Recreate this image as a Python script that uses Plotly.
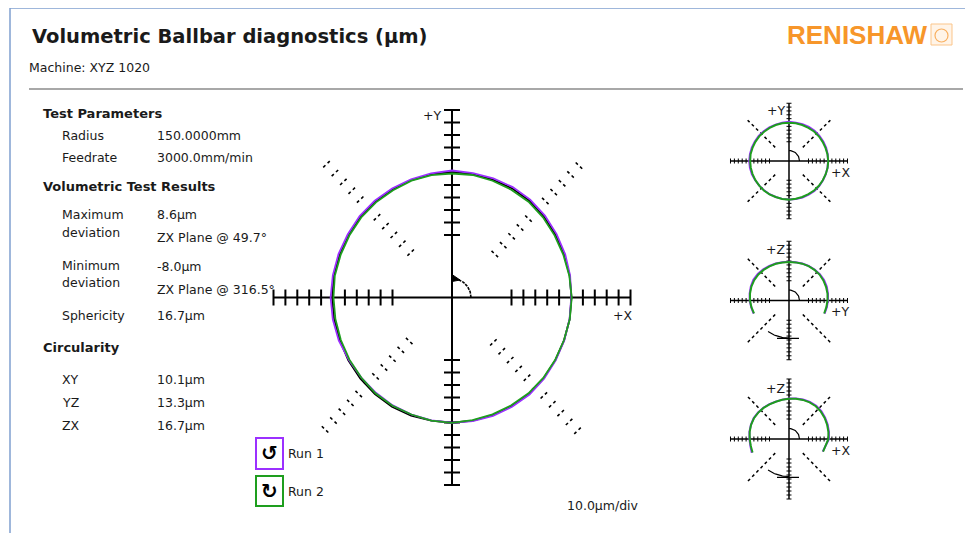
import numpy as np
import plotly.graph_objects as go

W, H = 973, 533
OFF = 8  # page body margin in the browser

# ---------------- data (deviation in µm from nominal, by angle in degrees) ----------------
xy_angle = [0, 10, 20, 30, 40, 50, 60, 70, 80, 90, 100, 110, 120, 130, 140, 150, 160, 170,
            180, 190, 200, 210, 220, 230, 240, 250, 260, 270, 280, 290, 300, 310, 320, 330, 340, 350]
xy_run1 = [0.2, 0.8, 1.2, 1.5, 1.9, 2.2, 2.0, 1.4, 1.1, 1.6, 0.9, 0.6, 0.7, 1.0, 1.3, 1.1, 1.5, 1.7,
           2.0, 1.7, 1.2, 0.0, -0.4, -0.5, -0.3, -0.4, -0.1, 0.2, 0.5, 0.7, 1.0, 1.3, 1.0, 0.6, 0.4, 0.3]
xy_run2 = [0.6, 0.1, -0.4, -0.5, -0.2, 0.0, -0.4, -0.6, -0.5, -0.8, -0.6, -0.5, -0.9, -0.6, -0.4, -0.5, -0.4, 0.0,
           -0.4, -0.5, -0.6, -0.5, -0.4, 0.1, 0.0, -0.4, 0.1, 0.3, -0.4, -0.5, -0.4, 0.0, 0.1, 0.0, 0.1, 0.5]
xy_mean = [0.4, 0.4, 0.4, 0.5, 0.8, 1.1, 0.8, 0.4, 0.3, 0.4, 0.1, 0.0, -0.1, 0.2, 0.4, 0.3, 0.5, 0.8,
           0.8, 0.6, 0.3, 0.6, 0.7, 0.8, 0.9, 0.5, 0.0, 0.2, 0.0, 0.1, 0.3, 0.6, 0.5, 0.3, 0.2, 0.4]

arc_angle = [-20, -10, 0, 10, 20, 30, 40, 50, 60, 70, 80, 90, 100, 110, 120, 130, 140, 150,
             160, 170, 180, 190, 200]
yz_run1 = [-3.0, -1.5, 0.0, 1.5, 3.0, 3.8, 3.2, 2.0, 0.8, -0.5, -1.5, -2.0, -1.5, -0.5, 1.0, 2.8, 4.6, 5.5,
           4.2, 2.5, 0.8, -1.5, -3.5]
yz_run2 = [-4.0, -2.8, -1.2, 0.2, 1.0, 1.8, 2.2, 1.5, 0.6, -0.8, -2.0, -2.5, -2.2, -1.2, 0.0, 1.2, 2.4, 3.0,
           2.6, 1.5, 0.0, -2.2, -4.5]
zx_run1 = [-8.0, -5.0, 2.5, 4.0, 5.5, 7.0, 8.2, 8.6, 7.0, 5.0, 2.8, 1.0, 0.0, -0.5, 0.5, 2.0, 3.5, 4.5,
           4.0, 3.0, 1.5, 0.5, 1.5]
zx_run2 = [-7.0, -4.5, 1.0, 2.5, 4.0, 5.5, 6.5, 6.8, 5.8, 4.0, 2.2, 0.6, -0.4, -0.8, 0.0, 1.4, 2.8, 3.8,
           3.5, 2.4, 0.8, -0.6, -0.5]

nominal = 100.0                      # plotted radius of the nominal circle (1 unit = 1 µm)
tick_r = [50, 60, 70, 80, 90, 100, 110, 120, 130, 140, 150]   # 10 µm / div graduations

param_labels = ["Radius", "Feedrate"]
param_values = ["150.0000mm", "3000.0mm/min"]
circ_labels = ["XY", "YZ", "ZX"]
circ_values = ["10.1µm", "13.3µm", "16.7µm"]

PURPLE = "#9b30ff"
GREEN = "#1e9e1e"
BLACK = "#000000"
TXT = "#1a1a1a"
FONT = "DejaVu Sans"


def px(x):
    return (x - OFF) / W


def py(y):
    return 1 - (y - OFF) / H


fig = go.Figure()

# ---------------- axes systems ----------------
RNG = 160
plots = {
    # name: (axis index, centre x px, centre y px, px/unit x, px/unit y)
    "main": (1, 452.0, 297.5, 1.19, 1.25),
    "xy": (2, 789.0, 161.0, 0.39, 0.385),
    "yz": (3, 789.0, 300.5, 0.39, 0.395),
    "zx": (4, 789.0, 439.0, 0.39, 0.40),
}
layout_axes = {}
for name, (i, cx, cy, sx, sy) in plots.items():
    sfx = "" if i == 1 else str(i)
    layout_axes["xaxis" + sfx] = dict(domain=[px(cx - RNG * sx), px(cx + RNG * sx)], range=[-RNG, RNG],
                                      visible=False, fixedrange=True, anchor="y" + sfx)
    layout_axes["yaxis" + sfx] = dict(domain=[py(cy + RNG * sy), py(cy - RNG * sy)], range=[-RNG, RNG],
                                      visible=False, fixedrange=True, anchor="x" + sfx)


def refs(name):
    i = plots[name][0]
    return ("x", "y") if i == 1 else ("x" + str(i), "y" + str(i))


def line(name, xs, ys, color=BLACK, width=1.5, dash="solid", fill=None):
    xr, yr = refs(name)
    fig.add_trace(go.Scatter(x=xs, y=ys, mode="lines", xaxis=xr, yaxis=yr, showlegend=False,
                             hoverinfo="skip", fill=fill, fillcolor=color if fill else None,
                             line=dict(color=color, width=width, dash=dash)))


def ticks(name, angle_deg, radii, half_px):
    _, _, _, sx, sy = plots[name]
    th = np.radians(angle_deg)
    dx, dy = np.cos(th) * sx, np.sin(th) * sy
    n = np.hypot(dx, dy)
    ux, uy = dx / n, dy / n
    ox, oy = -uy * half_px / sx, ux * half_px / sy
    xs, ys = [], []
    for r in radii:
        bx, by = r * np.cos(th), r * np.sin(th)
        xs += [bx - ox, bx + ox, None]
        ys += [by - oy, by + oy, None]
    return xs, ys


def arc(name, r_px, a0, a1, n=40):
    _, _, _, sx, sy = plots[name]
    t = np.radians(np.linspace(a0, a1, n))
    return list(r_px / sx * np.cos(t)), list(r_px / sy * np.sin(t))


def polar_xy(angles, devs, close=False):
    a = np.radians(np.array(angles, dtype=float))
    r = nominal + np.array(devs, dtype=float)
    x, y = list(r * np.cos(a)), list(r * np.sin(a))
    if close:
        x.append(x[0]); y.append(y[0])
    return x, y


ext = max(tick_r)

# ---------------- main plot ----------------
for ang in (45, 135, 225, 315):
    xs, ys = ticks("main", ang, tick_r, 5.5)
    line("main", xs, ys, width=1.6, dash="dot")
line("main", [-ext, ext], [0, 0], width=2)
line("main", [0, 0], [-ext, ext], width=2)
for ang in (0, 90, 180, 270):
    xs, ys = ticks("main", ang, tick_r, 8)
    line("main", xs, ys, width=2)
ax_, ay_ = arc("main", 19, 0, 88)
line("main", ax_, ay_, width=1.6, dash="3px,1px")
sx_m, sy_m = plots["main"][3], plots["main"][4]
line("main", [0, 0, 8 / sx_m, 0], [23 / sy_m, 16 / sy_m, 17.5 / sy_m, 23 / sy_m], width=1, fill="toself")

x1, y1 = polar_xy(xy_angle, xy_run1, True)
x2, y2 = polar_xy(xy_angle, xy_run2, True)
xm, ym = polar_xy(xy_angle, xy_mean, True)
line("main", xm, ym, BLACK, 1.8)
line("main", x1, y1, PURPLE, 1.8)
line("main", x2, y2, GREEN, 1.8)

# ---------------- small plots ----------------
small = [
    ("xy", xy_angle, xy_run1, xy_run2, True, "+Y", "+X"),
    ("yz", arc_angle, yz_run1, yz_run2, False, "+Z", "+Y"),
    ("zx", arc_angle, zx_run1, zx_run2, False, "+Z", "+X"),
]
annotations = []
for name, ang_list, r1, r2, closed, vlab, hlab in small:
    _, _, cy, sx, sy = plots[name]
    for ang in (45, 135, 225, 315):
        a = np.radians(ang)
        line(name, [tick_r[0] * np.cos(a), ext * np.cos(a)], [tick_r[0] * np.sin(a), ext * np.sin(a)],
             width=1.5, dash="dot")
    line(name, [-ext, ext], [0, 0], width=1.5)
    line(name, [0, 0], [-ext, ext], width=1.5)
    for ang in (0, 90, 180, 270):
        xs, ys = ticks(name, ang, tick_r, 2.5)
        line(name, xs, ys, width=1)
    ax_, ay_ = arc(name, 10.5, 0, 90, 20)
    line(name, ax_, ay_, width=1.2)
    if not closed:
        bx, by = arc(name, 37.5, 236, 270, 20)
        line(name, bx, by, width=1.2)
        line(name, [-12 / sx, 10 / sx], [-nominal * 0.96, -nominal * 0.96], width=1.2)
    xa, ya = polar_xy(ang_list, r1, closed)
    xb, yb = polar_xy(ang_list, r2, closed)
    line(name, xa, ya, PURPLE, 2)
    line(name, xb, yb, GREEN, 2)
    annotations.append(dict(text=vlab, x=px(787), y=py(cy - 51), xref="paper", yref="paper",
                            xanchor="right", yanchor="middle", showarrow=False,
                            font=dict(family=FONT, size=12.5, color=TXT)))
    annotations.append(dict(text=hlab, x=px(829), y=py(cy + 11), xref="paper", yref="paper",
                            xanchor="left", yanchor="middle", showarrow=False,
                            font=dict(family=FONT, size=12.5, color=TXT)))


# ---------------- text ----------------
def txt(s, x, y, size=12.5, bold=False, color=TXT, anchor="left", family=FONT):
    annotations.append(dict(text=s, x=px(x), y=py(y), xref="paper", yref="paper", xanchor=anchor,
                            yanchor="middle", showarrow=False,
                            font=dict(family=family, size=size, color=color,
                                      weight="bold" if bold else "normal")))


txt("Volumetric Ballbar diagnostics (µm)", 30, 37, 19.5, True)
txt("Machine: XYZ 1020", 27, 67, 12.5)
txt("RENISHAW", 785, 35, 26, True, "#f7962a", family="Liberation Sans")

txt("Test Parameters", 41, 113, 13, True)
for k, (lab, val) in enumerate(zip(param_labels, param_values)):
    txt(lab, 60, 135 + 22 * k)
    txt(val, 155, 135 + 22 * k)
txt("Volumetric Test Results", 41, 187, 13, True)
txt("Maximum", 60, 214)
txt("deviation", 60, 232)
txt("8.6µm", 155, 214)
txt("ZX Plane @ 49.7°", 155, 237)
txt("Minimum", 60, 265)
txt("deviation", 60, 282)
txt("-8.0µm", 155, 267)
txt("ZX Plane @ 316.5°", 155, 289)
txt("Sphericity", 60, 315)
txt("16.7µm", 155, 315)
txt("Circularity", 41, 347, 13, True)
for k, (lab, val) in enumerate(zip(circ_labels, circ_values)):
    txt(lab, 60, 379 + 23 * k)
    txt(val, 155, 379 + 23 * k)

txt("+Y", 443, 115, 12.5, anchor="right")
txt("+X", 611, 315, 12.5)
txt("10.0µm/div", 565, 505, 12.5)

# legend
txt("↺", 269.5, 453, 20, True, BLACK, anchor="center")
txt("↻", 269.5, 491, 20, True, BLACK, anchor="center")
txt("Run 1", 286, 453)
txt("Run 2", 286, 491)

shapes = [
    dict(type="line", xref="paper", yref="paper", x0=px(10), x1=px(990), y0=py(8), y1=py(8),
         line=dict(color="#7f9fcf", width=1.5)),
    dict(type="line", xref="paper", yref="paper", x0=px(10), x1=px(10), y0=py(8), y1=py(560),
         line=dict(color="#7f9fcf", width=1.5)),
    dict(type="line", xref="paper", yref="paper", x0=px(29), x1=px(963), y0=py(89), y1=py(89),
         line=dict(color="#a8a8a8", width=2)),
    dict(type="rect", xref="paper", yref="paper", x0=px(256), x1=px(283), y0=py(469), y1=py(438),
         line=dict(color=PURPLE, width=2)),
    dict(type="rect", xref="paper", yref="paper", x0=px(256), x1=px(283), y0=py(506), y1=py(476),
         line=dict(color=GREEN, width=2)),
    dict(type="rect", xref="paper", yref="paper", x0=px(931), x1=px(952), y0=py(45), y1=py(24),
         line=dict(color="#fbc58a", width=1), fillcolor="#fff4e8"),
    dict(type="circle", xref="paper", yref="paper", x0=px(935), x1=px(948), y0=py(42), y1=py(29),
         line=dict(color="#f9b060", width=1.2)),
]

fig.update_layout(width=W, height=H, margin=dict(l=0, r=0, t=0, b=0), paper_bgcolor="white",
                  plot_bgcolor="rgba(0,0,0,0)", showlegend=False, annotations=annotations, shapes=shapes,
                  **layout_axes)
fig.write_html("out.html")
